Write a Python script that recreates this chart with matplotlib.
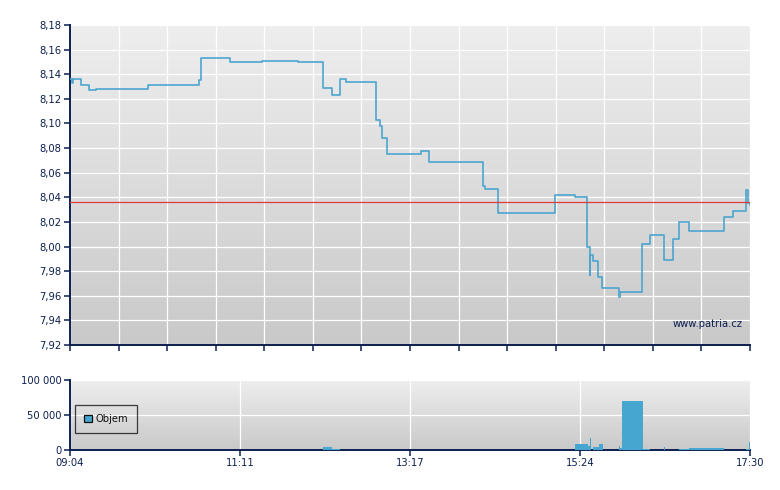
import numpy as np
import pandas as pd
import matplotlib
matplotlib.use("Agg")
import matplotlib.pyplot as plt
from matplotlib.colors import LinearSegmentedColormap
from matplotlib.patches import Patch

# ---------------- data ----------------
price_times = ["09:04:00", "09:05:30", "09:06:30", "09:12:00", "09:18:20", "09:23:30",
               "10:02:15", "10:40:10", "10:41:15", "11:03:00", "11:26:50", "11:53:40",
               "12:12:30", "12:19:10", "12:25:10", "12:29:10", "12:51:40", "12:54:40",
               "12:56:25", "13:00:05", "13:25:10", "13:30:55", "14:11:35", "14:12:35",
               "14:22:45", "15:05:05", "15:19:45", "15:28:55", "15:30:35", "15:31:10",
               "15:33:10", "15:37:05", "15:40:05", "15:52:45", "15:53:30", "16:09:50",
               "16:15:15", "16:26:00", "16:32:20", "16:37:30", "16:44:50", "17:10:25",
               "17:17:35", "17:26:50", "17:28:10", "17:30:00"]
price_values = [8.136, 8.133, 8.136, 8.131, 8.127, 8.128,
                8.131, 8.135, 8.153, 8.150, 8.151, 8.150,
                8.129, 8.123, 8.136, 8.134, 8.103, 8.098,
                8.088, 8.075, 8.078, 8.069, 8.049, 8.047,
                8.027, 8.042, 8.040, 8.000, 7.977, 7.993,
                7.988, 7.975, 7.966, 7.959, 7.963, 8.002,
                8.009, 7.989, 8.006, 8.020, 8.013, 8.024,
                8.029, 8.046, 8.035, 8.034]
reference_price = 8.036

vol_start = ["12:12:30", "12:19:10", "15:19:45", "15:29:40", "15:30:45", "15:33:10",
             "15:37:40", "15:52:30", "15:53:15", "15:54:45", "16:10:25", "16:26:00",
             "16:37:10", "16:44:35", "17:27:00", "17:29:15"]
vol_end = ["12:19:10", "12:25:10", "15:29:40", "15:30:45", "15:31:40", "15:37:40",
           "15:40:35", "15:53:15", "15:54:45", "16:10:25", "16:15:35", "16:26:45",
           "16:44:35", "17:10:40", "17:29:15", "17:30:00"]
vol_values = [4300, 1500, 8700, 5800, 17700, 4300,
              8700, 5800, 2900, 69300, 1400, 4300,
              1400, 2900, 1400, 11500]

session_start = "09:04:00"
session_end = "17:30:00"
x_tick_labels = ["09:04", "11:11", "13:17", "15:24", "17:30"]
price_ticks = [7.92, 7.94, 7.96, 7.98, 8.00, 8.02, 8.04, 8.06, 8.08, 8.10, 8.12, 8.14, 8.16, 8.18]
vol_ticks = [0, 50000, 100000]

# ---------------- helpers ----------------
def minutes(ts):
    t = pd.to_timedelta(pd.Series(ts))
    return ((t - pd.to_timedelta(session_start)).dt.total_seconds() / 60.0).to_numpy()

t0 = 0.0
t1 = minutes([session_end])[0]
px = minutes(price_times)
vs = minutes(vol_start)
ve = minutes(vol_end)

navy = "#0d1f4f"
line_blue = "#4ba5cf"
bar_blue = "#46a6cf"
font = "DejaVu Sans"
fs = 7.2

plt.rcParams["font.family"] = [font]

fig = plt.figure(figsize=(7.8, 4.9), dpi=100)
fig.patch.set_facecolor("white")

W, H = 780.0, 490.0
ax = fig.add_axes([70 / W, 1 - 345 / H, 680 / W, 320 / H])
axv = fig.add_axes([70 / W, 1 - 450 / H, 680 / W, 70 / H])

cmap = LinearSegmentedColormap.from_list("bg", ["#eeeeee", "#c9c9c9"])
grad = np.linspace(0, 1, 256).reshape(-1, 1)

for a in (ax, axv):
    a.imshow(grad, cmap=cmap, extent=[0, 1, 0, 1], transform=a.transAxes,
             aspect="auto", zorder=0, interpolation="bilinear")
    for s in ("top", "right"):
        a.spines[s].set_visible(False)
    for s in ("left", "bottom"):
        a.spines[s].set_color(navy)
        a.spines[s].set_linewidth(1.4)
    a.tick_params(colors=navy, labelcolor=navy, labelsize=fs, direction="out",
                  length=4, width=1.1, pad=2)
    a.set_xlim(t0, t1)

# ---------------- price chart ----------------
ax.set_ylim(price_ticks[0], price_ticks[-1])
ax.set_yticks(price_ticks)
ax.yaxis.set_major_formatter(matplotlib.ticker.FuncFormatter(
    lambda v, p: f"{v:.2f}".replace(".", ",")))
ax.set_xticks(np.linspace(t0, t1, 15))
ax.set_xticklabels([])
ax.grid(True, color="white", linewidth=0.9, zorder=1)
ax.step(px, price_values, where="post", color=line_blue, linewidth=1.2, zorder=3)
ax.axhline(reference_price, color="#df3b3b", linewidth=0.9, zorder=4)
ax.text(743 / W, 1 - 324 / H, "www.patria.cz", transform=fig.transFigure,
        ha="right", va="center", fontsize=fs, color=navy)

# ---------------- volume chart ----------------
axv.set_ylim(vol_ticks[0], vol_ticks[-1])
axv.set_yticks(vol_ticks)
axv.yaxis.set_major_formatter(matplotlib.ticker.FuncFormatter(
    lambda v, p: f"{int(v):,}".replace(",", " ")))
axv.set_xticks(np.linspace(t0, t1, len(x_tick_labels)))
axv.set_xticklabels(x_tick_labels)
axv.grid(True, color="white", linewidth=0.9, zorder=1)
axv.bar(vs, vol_values, width=ve - vs, align="edge", color=bar_blue,
        linewidth=0, zorder=3)
leg = axv.legend(handles=[Patch(facecolor=bar_blue, edgecolor="#111111", linewidth=0.9,
                                label="Objem")],
                 loc="upper left", bbox_to_anchor=(5 / 680, 45 / 70),
                 frameon=True, fancybox=False, fontsize=fs, borderpad=0.9,
                 handlelength=0.8, handleheight=0.8, handletextpad=0.35,
                 borderaxespad=0.0, labelcolor="#111111")
leg.get_frame().set_edgecolor("#111111")
leg.get_frame().set_facecolor("none")
leg.get_frame().set_linewidth(0.9)

fig.savefig("out.png", dpi=100)
